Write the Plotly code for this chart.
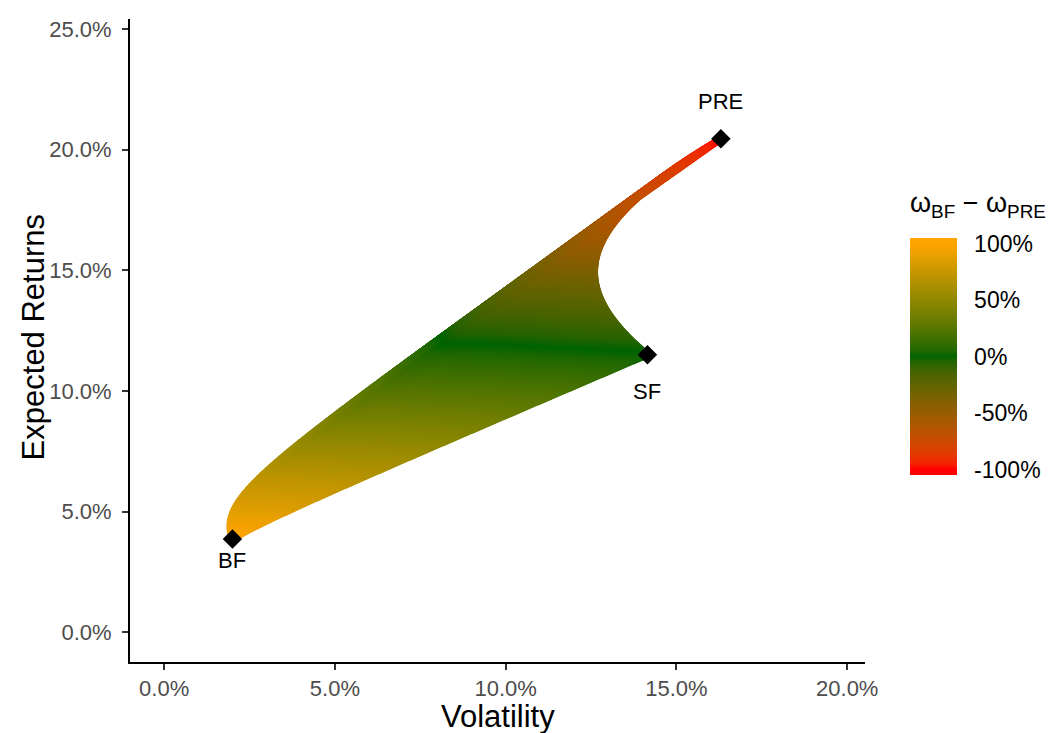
import numpy as np
import plotly.graph_objects as go

# ---- data ----
assets = ["BF", "SF", "PRE"]
exp_returns = [0.0387, 0.1150, 0.2045]      # expected returns
volatility = [0.0200, 0.1415, 0.1630]       # volatilities
corr_bf_sf = 0.775
corr_bf_pre = -0.15
corr_sf_pre = 0.40
weight_step = 0.004

x_ticks = [0.0, 0.05, 0.10, 0.15, 0.20]
y_ticks = [0.0, 0.05, 0.10, 0.15, 0.20, 0.25]
legend_ticks = [-1.0, -0.5, 0.0, 0.5, 1.0]
legend_labels = ["-100%", "-50%", "0%", "50%", "100%"]
scale_colors = ["#FF0000", "#006400", "#FFA500"]   # low, mid, high

# ---- portfolios of the three assets (long only) ----
mu = np.array(exp_returns)
vol = np.array(volatility)
corr = np.array([[1.0, corr_bf_sf, corr_bf_pre],
                 [corr_bf_sf, 1.0, corr_sf_pre],
                 [corr_bf_pre, corr_sf_pre, 1.0]])
cov = np.outer(vol, vol) * corr

g = np.round(np.arange(0, 1 + 1e-9, weight_step), 6)
wB, wS = np.meshgrid(g, g, indexing="ij")
mask = wB + wS <= 1 + 1e-9
wB, wS = wB[mask], wS[mask]
wP = np.clip(1 - wB - wS, 0, 1)
W = np.stack([wB, wS, wP], axis=1)
port_ret = W @ mu
port_sd = np.sqrt(np.einsum("ij,jk,ik->i", W, cov, W))
w_diff = wB - wP


# ---- colour scale: Lab interpolation like ggplot's gradient2 ----
def srgb_to_lab(h):
    h = h.lstrip("#")
    rgb = np.array([int(h[i:i + 2], 16) / 255 for i in (0, 2, 4)])
    lin = np.where(rgb <= 0.04045, rgb / 12.92, ((rgb + 0.055) / 1.055) ** 2.4)
    M = np.array([[0.4124, 0.3576, 0.1805], [0.2126, 0.7152, 0.0722], [0.0193, 0.1192, 0.9505]])
    xyz = M @ lin / np.array([0.95047, 1.0, 1.08883])
    f = np.where(xyz > 0.008856, np.cbrt(xyz), 7.787 * xyz + 16 / 116)
    return np.array([116 * f[1] - 16, 500 * (f[0] - f[1]), 200 * (f[1] - f[2])])


def lab_to_srgb(lab):
    L_, a, b = lab
    fy = (L_ + 16) / 116
    fx = fy + a / 500
    fz = fy - b / 200
    f = np.array([fx, fy, fz])
    xyz = np.where(f ** 3 > 0.008856, f ** 3, (f - 16 / 116) / 7.787) * np.array([0.95047, 1.0, 1.08883])
    Mi = np.array([[3.2406, -1.5372, -0.4986], [-0.9689, 1.8758, 0.0415], [0.0557, -0.2040, 1.0570]])
    lin = np.clip(Mi @ xyz, 0, 1)
    rgb = np.where(lin <= 0.0031308, 12.92 * lin, 1.055 * lin ** (1 / 2.4) - 0.055)
    rgb = np.clip(np.round(rgb * 255), 0, 255).astype(int)
    return "rgb(%d,%d,%d)" % tuple(rgb)


labs = [srgb_to_lab(c) for c in scale_colors]
cmin, cmax = -1.05, 1.05
colorscale = []
for t in np.linspace(0, 1, 43):
    v = float(np.clip(cmin + (cmax - cmin) * t, -1, 1))
    if v <= 0:
        lab = labs[0] + (labs[1] - labs[0]) * (v + 1)
    else:
        lab = labs[1] + (labs[2] - labs[1]) * v
    colorscale.append([float(t), lab_to_srgb(lab)])

# ---- layout geometry (pixels) ----
W_PX, H_PX = 1053, 733
L, R, T, B = 130, 185, 19, 71
pw, ph = W_PX - L - R, H_PX - T - B


def px_x(p):
    return (p - L) / pw


def px_y(p):
    return (H_PX - B - p) / ph


FONT = "Liberation Sans"
fig = go.Figure()
fig.add_trace(go.Scatter(
    x=np.round(port_sd, 6), y=np.round(port_ret, 6), mode="markers",
    marker=dict(
        color=np.round(w_diff, 4), colorscale=colorscale, cmin=cmin, cmax=cmax,
        size=7, line=dict(width=0),
        colorbar=dict(
            tickvals=legend_ticks, ticktext=legend_labels,
            ticks="outside", ticklen=13, tickwidth=1, tickcolor="white",
            thickness=47, thicknessmode="pixels", len=237, lenmode="pixels",
            x=px_x(912.7), xanchor="left", y=px_y(356.7), yanchor="middle",
            xpad=0, ypad=0, outlinewidth=0,
            tickfont=dict(size=23, color="black", family=FONT),
            title=dict(text=""),
        ),
    ),
    hoverinfo="skip", showlegend=False,
))

fig.add_trace(go.Scatter(
    x=volatility, y=exp_returns, mode="markers",
    marker=dict(symbol="diamond", size=15, color="black"),
    showlegend=False, hoverinfo="skip",
))

label_shift = {"BF": -22, "SF": -37, "PRE": 37}
for name, xv, yv in zip(assets, volatility, exp_returns):
    fig.add_annotation(x=xv, y=yv, text=name, showarrow=False, yshift=label_shift[name],
                       font=dict(size=22, color="black", family=FONT))

fig.add_annotation(xref="paper", yref="paper", x=px_x(911), y=px_y(205),
                   xanchor="left", yanchor="middle", showarrow=False,
                   text="ω<sub>BF</sub> − ω<sub>PRE</sub>",
                   font=dict(size=27, color="black", family=FONT))

# axis titles
fig.add_annotation(xref="paper", yref="paper", x=px_x(499), y=px_y(716),
                   xanchor="center", yanchor="middle", showarrow=False, text="Volatility",
                   font=dict(size=31, color="black", family=FONT))
fig.add_annotation(xref="paper", yref="paper", x=px_x(33), y=px_y(337),
                   xanchor="center", yanchor="middle", showarrow=False, text="Expected Returns",
                   textangle=-90, font=dict(size=31, color="black", family=FONT))

# white tick marks on both sides of the colour bar
for v in legend_ticks:
    py = 356.7 - v * 112.5
    for xa, xb in ((912.7, 921.7), (951.0, 960.0)):
        fig.add_shape(type="line", xref="paper", yref="paper",
                      x0=px_x(xa), x1=px_x(xb), y0=px_y(py), y1=px_y(py),
                      line=dict(color="rgba(255,255,255,0.85)", width=1))

axis_common = dict(showgrid=False, zeroline=False, showline=True, linecolor="black", linewidth=2,
                   ticks="outside", ticklen=6, tickwidth=2, tickcolor="#333333", automargin=False,
                   tickformat=".1%", tickfont=dict(size=22, color="#4D4D4D", family=FONT))

fig.update_layout(
    width=W_PX, height=H_PX,
    margin=dict(l=L, r=R, t=T, b=B),
    paper_bgcolor="white", plot_bgcolor="white",
    xaxis=dict(range=[-0.0100, 0.2052], tickvals=x_ticks, ticklabelstandoff=0, **axis_common),
    yaxis=dict(range=[-0.0123, 0.2541], tickvals=y_ticks, ticklabelstandoff=6, **axis_common),
)

fig.write_html("out.html")
